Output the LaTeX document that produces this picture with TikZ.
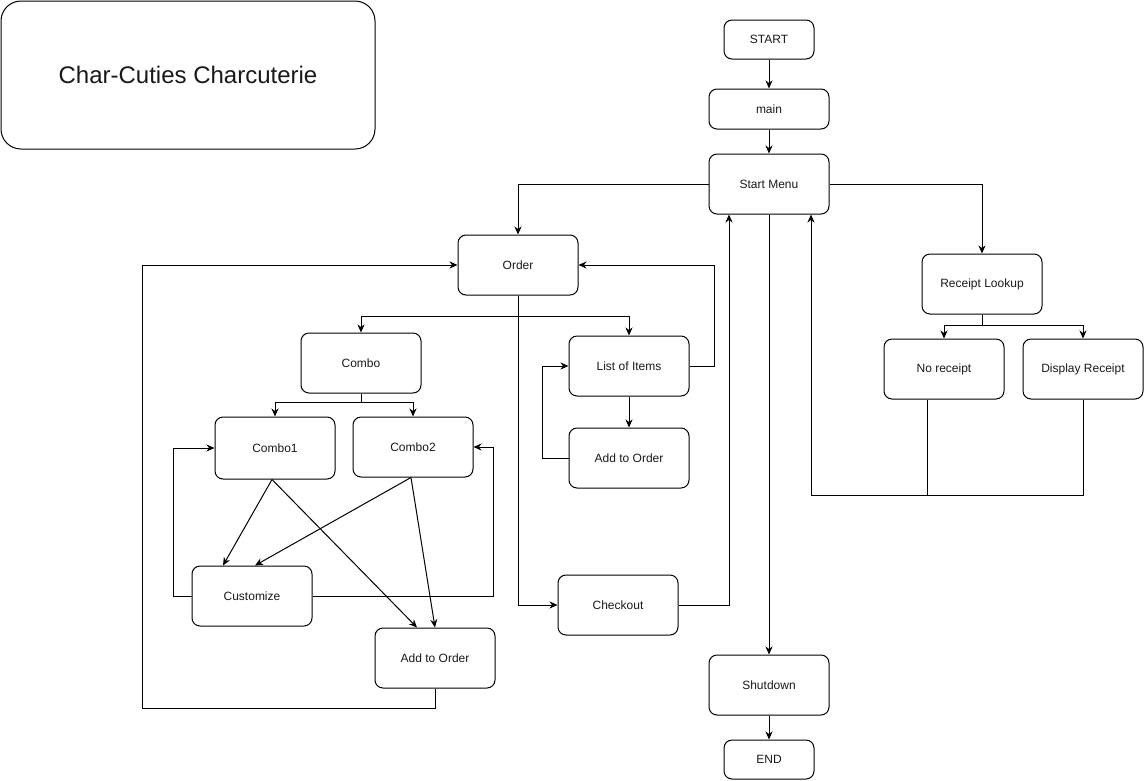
\documentclass[tikz,border=0pt]{standalone}
\usepackage{fontspec}
\setmainfont{Liberation Sans}
\usetikzlibrary{arrows.meta}
\tikzset{
  box/.style={draw, line width=1pt, rounded corners=8pt, minimum width=120pt, minimum height=60pt, inner sep=0pt, font=\fontsize{12}{14}\selectfont, text=black!90},
  smallbox/.style={box, minimum width=90pt, minimum height=39pt},
  titlebox/.style={draw, line width=1pt, rounded corners=20pt, minimum width=374pt, minimum height=148pt, inner sep=0pt, font=\fontsize{24}{28}\selectfont, text=black!90},
  arr/.style={draw, line width=1pt, -{Stealth[length=8pt,width=7pt,inset=2.5pt]}},
  ln/.style={draw, line width=1pt}
}
\begin{document}
\begin{tikzpicture}[x=1pt,y=-1pt]
\useasboundingbox (0,0) rectangle (1144,780);
\node[titlebox] (title) at (188,75) {Char-Cuties Charcuterie};
\node[smallbox] (start) at (769,39.5) {START};
\node[box, minimum height=40pt] (main) at (769,109) {main};
\node[box] (menu) at (769,184) {Start Menu};
\node[box] (order) at (518,265) {Order};
\node[box] (receipt) at (982,284) {Receipt Lookup};
\node[box] (norec) at (944,369) {No receipt};
\node[box] (disp) at (1083,369) {Display Receipt};
\node[box] (combo) at (361,363) {Combo};
\node[box] (list) at (629,366) {List of Items};
\node[box, minimum height=62pt] (c1) at (275,448) {Combo1};
\node[box] (c2) at (413,447) {Combo2};
\node[box] (add1) at (629,458) {Add to Order};
\node[box] (cust) at (252,596) {Customize};
\node[box] (checkout) at (618,605) {Checkout};
\node[box] (add2) at (435,658) {Add to Order};
\node[box] (shutdown) at (769,685) {Shutdown};
\node[smallbox] (end) at (769,759.5) {END};

\draw[arr] (start) -- (main);
\draw[arr] (main) -- (menu);
\draw[arr] (menu.west) -| (order.north);
\draw[arr] (menu.east) -| (receipt.north);
\draw[ln] (receipt.south) -- ++(0,11) coordinate (rj);
\draw[arr] (rj) -| (norec.north);
\draw[arr] (rj) -| (disp.north);
\draw[ln] ([xshift=-17pt]norec.south) -- ++(0,96);
\draw[arr] (disp.south) -- ++(0,96) -| ([xshift=42pt]menu.south);
\draw[arr] (menu.south) -- (shutdown.north);
\draw[arr] (shutdown) -- (end);
\draw[arr] (order.south) |- (checkout.west);
\draw[arr] (checkout.east) -| ([xshift=-40pt]menu.south);
\draw[ln] ([yshift=-21pt]order.south) coordinate (oj) -- (oj);
\draw[arr] (oj) -| (combo.north);
\draw[arr] (oj) -| (list.north);
\draw[arr] (list.east) -- ++(25,0) |- (order.east);
\draw[arr] (list) -- (add1);
\draw[arr] (add1.west) -- ++(-26,0) |- (list.west);
\draw[ln] (combo.south) -- ++(0,9) coordinate (cj);
\draw[arr] (cj) -| (c1.north);
\draw[arr] (cj) -| (c2.north);
\draw[arr] ([xshift=-3pt]c1.south) -- ([xshift=-29pt]cust.north);
\draw[arr] ([xshift=-3pt]c1.south) -- ([xshift=-18pt]add2.north);
\draw[arr] ([xshift=-2pt]c2.south) -- ([xshift=3pt]cust.north);
\draw[arr] ([xshift=-2pt]c2.south) -- (add2.north);
\draw[arr] (cust.west) -- ++(-18,0) |- (c1.west);
\draw[arr] (cust.east) -- ++(181,0) |- (c2.east);
\draw[arr] (add2.south) -- ++(0,20) -- ++(-293,0) |- (order.west);
\end{tikzpicture}
\end{document}
